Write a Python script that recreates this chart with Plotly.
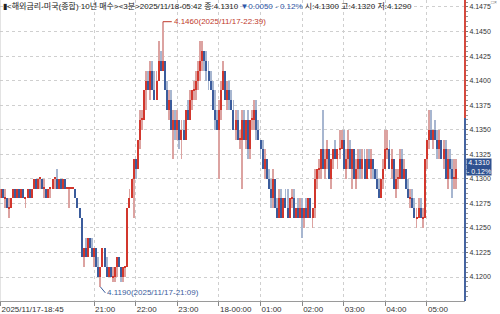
import pandas as pd
import plotly.graph_objects as go

# ---------------- data ----------------
start_time = "2025-11-17 18:45"
n_bars = 220
times = pd.date_range(start_time, periods=n_bars, freq="3min")

opens = [4.128,4.129,4.128,4.128,4.127,4.127,4.128,4.129,4.128,4.129,
 4.128,4.129,4.128,4.128,4.129,4.128,4.129,4.130,4.129,4.130,
 4.130,4.129,4.129,4.128,4.129,4.129,4.130,4.130,4.129,4.130,
 4.129,4.130,4.129,4.129,4.129,4.129,4.129,4.128,4.127,4.126,
 4.122,4.123,4.122,4.124,4.123,4.122,4.123,4.121,4.120,4.121,
 4.123,4.121,4.120,4.121,4.120,4.120,4.121,4.122,4.121,4.120,
 4.121,4.121,4.127,4.128,4.130,4.132,4.131,4.134,4.136,4.136,
 4.139,4.140,4.139,4.141,4.139,4.138,4.140,4.142,4.141,4.142,
 4.139,4.137,4.138,4.135,4.136,4.135,4.136,4.134,4.135,4.134,
 4.137,4.136,4.138,4.139,4.139,4.140,4.141,4.142,4.143,4.142,
 4.141,4.140,4.139,4.137,4.136,4.135,4.137,4.139,4.141,4.138,
 4.139,4.138,4.137,4.135,4.136,4.134,4.134,4.136,4.134,4.136,
 4.133,4.136,4.136,4.137,4.135,4.134,4.133,4.131,4.132,4.130,
 4.129,4.128,4.130,4.127,4.126,4.128,4.126,4.128,4.127,4.126,
 4.128,4.128,4.126,4.127,4.126,4.127,4.126,4.127,4.126,4.128,
 4.126,4.127,4.130,4.131,4.131,4.133,4.131,4.132,4.133,4.130,
 4.132,4.133,4.132,4.133,4.133,4.134,4.131,4.132,4.133,4.131,
 4.133,4.130,4.131,4.132,4.131,4.132,4.130,4.132,4.131,4.132,
 4.131,4.130,4.129,4.128,4.130,4.131,4.133,4.133,4.131,4.132,
 4.129,4.130,4.130,4.132,4.130,4.131,4.129,4.128,4.128,4.127,
 4.126,4.126,4.127,4.126,4.126,4.132,4.134,4.135,4.134,4.135,
 4.134,4.133,4.134,4.132,4.133,4.130,4.132,4.131,4.130,4.130]

highs = [4.129,4.129,4.129,4.128,4.128,4.128,4.129,4.129,4.129,4.129,
 4.129,4.129,4.128,4.129,4.129,4.129,4.130,4.130,4.130,4.130,
 4.130,4.130,4.129,4.129,4.129,4.130,4.130,4.131,4.130,4.130,
 4.130,4.130,4.129,4.129,4.129,4.129,4.129,4.128,4.127,4.126,
 4.123,4.124,4.124,4.124,4.124,4.123,4.123,4.122,4.121,4.123,
 4.123,4.122,4.121,4.121,4.121,4.121,4.122,4.122,4.121,4.121,
 4.121,4.127,4.129,4.130,4.132,4.132,4.134,4.137,4.137,4.139,
 4.141,4.141,4.142,4.142,4.141,4.141,4.144,4.143,4.146,4.142,
 4.140,4.139,4.139,4.137,4.137,4.137,4.136,4.136,4.136,4.137,
 4.138,4.139,4.139,4.140,4.141,4.142,4.144,4.144,4.143,4.143,
 4.142,4.141,4.140,4.139,4.137,4.138,4.140,4.142,4.141,4.140,
 4.140,4.139,4.138,4.137,4.137,4.135,4.137,4.137,4.136,4.137,
 4.136,4.137,4.138,4.138,4.136,4.134,4.134,4.133,4.132,4.131,
 4.130,4.131,4.130,4.128,4.129,4.129,4.128,4.129,4.129,4.128,
 4.129,4.129,4.127,4.128,4.128,4.128,4.127,4.128,4.128,4.128,
 4.127,4.131,4.131,4.132,4.133,4.137,4.133,4.134,4.133,4.132,
 4.133,4.134,4.133,4.135,4.135,4.135,4.133,4.135,4.134,4.133,
 4.133,4.132,4.133,4.133,4.133,4.133,4.133,4.133,4.133,4.132,
 4.131,4.131,4.130,4.130,4.132,4.135,4.135,4.134,4.133,4.132,
 4.131,4.131,4.133,4.133,4.132,4.131,4.130,4.129,4.129,4.128,
 4.127,4.128,4.128,4.127,4.132,4.134,4.137,4.137,4.135,4.136,
 4.135,4.135,4.134,4.134,4.134,4.133,4.133,4.132,4.132,4.132]

lows = [4.128,4.128,4.127,4.127,4.126,4.127,4.128,4.128,4.128,4.128,
 4.128,4.128,4.127,4.128,4.128,4.128,4.129,4.129,4.129,4.129,
 4.129,4.128,4.128,4.128,4.128,4.129,4.129,4.129,4.129,4.129,
 4.129,4.129,4.129,4.127,4.129,4.129,4.128,4.127,4.126,4.122,
 4.121,4.122,4.122,4.123,4.122,4.121,4.121,4.120,4.119,4.121,
 4.121,4.120,4.120,4.120,4.1195,4.1195,4.120,4.121,4.1195,4.1195,
 4.120,4.121,4.127,4.128,4.126,4.130,4.131,4.133,4.135,4.136,
 4.137,4.139,4.138,4.139,4.138,4.138,4.140,4.141,4.141,4.139,
 4.137,4.136,4.135,4.132,4.134,4.134,4.133,4.132,4.134,4.134,
 4.136,4.136,4.137,4.138,4.138,4.139,4.140,4.141,4.141,4.140,
 4.139,4.139,4.137,4.135,4.135,4.130,4.136,4.139,4.138,4.137,
 4.137,4.137,4.135,4.134,4.134,4.133,4.129,4.134,4.133,4.132,
 4.132,4.135,4.135,4.134,4.134,4.132,4.131,4.130,4.130,4.129,
 4.127,4.127,4.127,4.126,4.126,4.126,4.126,4.127,4.126,4.126,
 4.127,4.126,4.126,4.126,4.126,4.124,4.125,4.126,4.126,4.126,
 4.125,4.126,4.129,4.130,4.130,4.131,4.130,4.131,4.130,4.129,
 4.131,4.132,4.131,4.132,4.133,4.131,4.130,4.131,4.131,4.129,
 4.130,4.129,4.130,4.130,4.130,4.130,4.130,4.131,4.130,4.130,
 4.130,4.129,4.128,4.128,4.129,4.131,4.132,4.131,4.130,4.129,
 4.128,4.129,4.130,4.130,4.130,4.129,4.128,4.127,4.127,4.126,
 4.125,4.126,4.126,4.125,4.126,4.131,4.133,4.134,4.133,4.134,
 4.132,4.132,4.132,4.131,4.130,4.129,4.130,4.128,4.129,4.129]

closes = [4.129,4.128,4.128,4.127,4.127,4.128,4.129,4.128,4.129,4.128,
 4.129,4.128,4.128,4.129,4.128,4.129,4.130,4.129,4.130,4.130,
 4.129,4.129,4.128,4.129,4.129,4.130,4.130,4.129,4.130,4.129,
 4.130,4.129,4.129,4.129,4.129,4.129,4.128,4.127,4.126,4.122,
 4.123,4.122,4.124,4.123,4.122,4.123,4.121,4.120,4.121,4.123,
 4.121,4.120,4.121,4.120,4.120,4.121,4.122,4.121,4.120,4.121,
 4.121,4.127,4.128,4.130,4.132,4.131,4.134,4.136,4.136,4.139,
 4.140,4.139,4.141,4.139,4.138,4.140,4.142,4.141,4.142,4.139,
 4.137,4.138,4.135,4.136,4.135,4.136,4.134,4.135,4.134,4.137,
 4.136,4.138,4.139,4.139,4.140,4.141,4.142,4.143,4.142,4.141,
 4.140,4.139,4.137,4.136,4.135,4.137,4.139,4.141,4.138,4.139,
 4.138,4.137,4.135,4.136,4.134,4.134,4.136,4.134,4.136,4.133,
 4.136,4.136,4.137,4.135,4.134,4.133,4.131,4.132,4.130,4.129,
 4.128,4.130,4.127,4.126,4.128,4.126,4.128,4.127,4.126,4.128,
 4.128,4.126,4.127,4.126,4.127,4.126,4.127,4.126,4.128,4.126,
 4.127,4.130,4.131,4.131,4.133,4.131,4.132,4.133,4.130,4.132,
 4.133,4.132,4.133,4.133,4.134,4.131,4.132,4.133,4.131,4.133,
 4.130,4.131,4.132,4.131,4.132,4.130,4.132,4.131,4.132,4.131,
 4.130,4.129,4.128,4.130,4.131,4.133,4.133,4.131,4.132,4.129,
 4.130,4.130,4.132,4.130,4.131,4.129,4.128,4.128,4.127,4.126,
 4.126,4.127,4.126,4.126,4.132,4.134,4.135,4.134,4.135,4.134,
 4.133,4.134,4.132,4.133,4.130,4.132,4.131,4.130,4.130,4.131]

tick_times = ["2025-11-17 18:45", "2025-11-17 21:00", "2025-11-17 22:00", "2025-11-17 23:00",
              "2025-11-18 00:00", "2025-11-18 01:00", "2025-11-18 02:00", "2025-11-18 03:00",
              "2025-11-18 04:00", "2025-11-18 05:00"]
tick_labels = ["2025/11/17-18:45", "21:00", "22:00", "23:00", "18-00:00",
               "01:00", "02:00", "03:00", "04:00", "05:00"]

y_ticks = [4.1200, 4.1225, 4.1250, 4.1275, 4.1300, 4.1325, 4.1350, 4.1375, 4.1400, 4.1425, 4.1450, 4.1475]

header_name = "<해외금리-미국(종합) 10년 매수><3분>2025/11/18-05:42"
last_close = 4.1310
change = "▼0.0050 - 0.12%"
change_pct = "- 0.12%"
split_price = 4.1362  # where axis strip turns from red to blue

# ---------------- styling ----------------
UP_BODY = "#d2372d"
UP_WICK = "#dca3a1"
DN_BODY = "#3b5c9c"
DN_WICK = "#a7b6d0"
FONT = "Liberation Sans Narrow, Liberation Sans, Noto Sans CJK KR, sans-serif"

up = [c >= o for o, c in zip(opens, closes)]
wick_base = lows
wick_len = [h - l for h, l in zip(highs, lows)]
body_base = [min(o, c) for o, c in zip(opens, closes)]
body_len = [max(abs(c - o), 0.00012) for o, c in zip(opens, closes)]

bar_ms = 3 * 60 * 1000

fig = go.Figure()
fig.add_trace(go.Bar(x=times, y=wick_len, base=wick_base, width=bar_ms * 0.45,
                     marker=dict(color=[UP_WICK if u else DN_WICK for u in up], line=dict(width=0)),
                     hoverinfo="skip", showlegend=False))
fig.add_trace(go.Bar(x=times, y=body_len, base=body_base, width=bar_ms * 0.5,
                     marker=dict(color=[UP_BODY if u else DN_BODY for u in up], line=dict(width=0)),
                     hoverinfo="skip", showlegend=False))

t0 = times[0]
x_range = [t0 - pd.Timedelta(seconds=3 * 60 * 0.25), t0 + pd.Timedelta(seconds=3 * 60 * 223.3)]
y_range = [4.11756, 4.14821]

fig.update_layout(
    width=500, height=314,
    margin=dict(l=0, r=35, t=0, b=13),
    paper_bgcolor="white", plot_bgcolor="white",
    barmode="overlay", bargap=0,
    font=dict(family=FONT, size=8, color="#333"),
    showlegend=False,
)
fig.update_xaxes(
    type="date", range=x_range, automargin=False,
    tickmode="array", tickvals=tick_times, ticktext=tick_labels,
    ticklabelposition="outside right",
    ticks="outside", ticklen=4, tickcolor="#888",
    showgrid=True, gridcolor="#cfcfcf", griddash="dot", gridwidth=1,
    showline=True, linecolor="#9a9a9a", linewidth=1,
    tickfont=dict(size=8, color="#333", family=FONT),
    zeroline=False,
)
fig.update_yaxes(
    side="right", range=y_range, automargin=False,
    tickmode="array", tickvals=y_ticks, ticktext=[f"{v:.4f}" for v in y_ticks],
    ticks="outside", ticklen=2, tickcolor="#777",
    minor=dict(ticks="outside", ticklen=2, dtick=0.0005, tick0=4.12, tickcolor="#999", showgrid=False),
    showgrid=True, gridcolor="#cfcfcf", griddash="dot", gridwidth=1,
    showline=False, zeroline=False,
    tickfont=dict(size=7, color="#333", family=FONT),
)

# right axis colored strip
fig.add_shape(type="line", xref="paper", yref="y", x0=1, x1=1, y0=split_price, y1=y_range[1],
              line=dict(color="#d44a3e", width=2))
fig.add_shape(type="line", xref="paper", yref="y", x0=1, x1=1, y0=y_range[0], y1=split_price,
              line=dict(color="#4564a0", width=2))
# left border
fig.add_shape(type="line", xref="paper", yref="paper", x0=0, x1=0, y0=0, y1=1,
              line=dict(color="#c8c8c8", width=1))

# current price label
fig.add_annotation(xref="paper", yref="y", x=1, y=last_close, xanchor="left", yanchor="middle",
                   xshift=1, yshift=2, text=f"{last_close:.4f}<br>{change_pct}", showarrow=False,
                   bgcolor="#2f5190", font=dict(color="white", size=7, family=FONT),
                   borderpad=0, align="center")

# header
fig.add_annotation(xref="paper", yref="paper", x=0, y=1, xanchor="left", yanchor="top",
                   xshift=1, yshift=1, showarrow=False, align="left",
                   text=(f"▮{header_name.replace('<', '&lt;').replace('>', '&gt;')} 종:{last_close:.4f} "
                         f"<span style='color:#2c55a8'>{change}</span> "
                         f"시:{opens[-1]:.4f} 고:{highs[-1]:.4f} 저:{lows[-1]:.4f}"),
                   font=dict(size=8, color="#222", family=FONT))
fig.add_annotation(xref="paper", yref="paper", x=1, y=1, xanchor="right", yanchor="top",
                   xshift=34, yshift=3, showarrow=False, text="□×",
                   font=dict(size=5, color="#777", family=FONT))

# high / low markers
i_hi = max(range(n_bars), key=lambda i: highs[i])
i_lo = min(range(n_bars), key=lambda i: (lows[i], i))
fig.add_annotation(x=times[i_hi], y=highs[i_hi], ax=9, ay=0, xanchor="left",
                   text=f"{highs[i_hi]:.4f}({times[i_hi]:%Y/%m/%d-%H:%M})",
                   showarrow=True, arrowhead=0, arrowwidth=1, arrowcolor="#c0392b",
                   font=dict(size=8, color="#c0392b", family=FONT))
fig.add_annotation(x=times[i_lo], y=lows[i_lo], ax=5, ay=6, xanchor="left",
                   text=f"{lows[i_lo]:.4f}({times[i_lo]:%Y/%m/%d-%H:%M})",
                   showarrow=True, arrowhead=0, arrowwidth=1, arrowcolor="#3b5c9c",
                   font=dict(size=8, color="#3b5c9c", family=FONT))

fig.write_html("out.html")
